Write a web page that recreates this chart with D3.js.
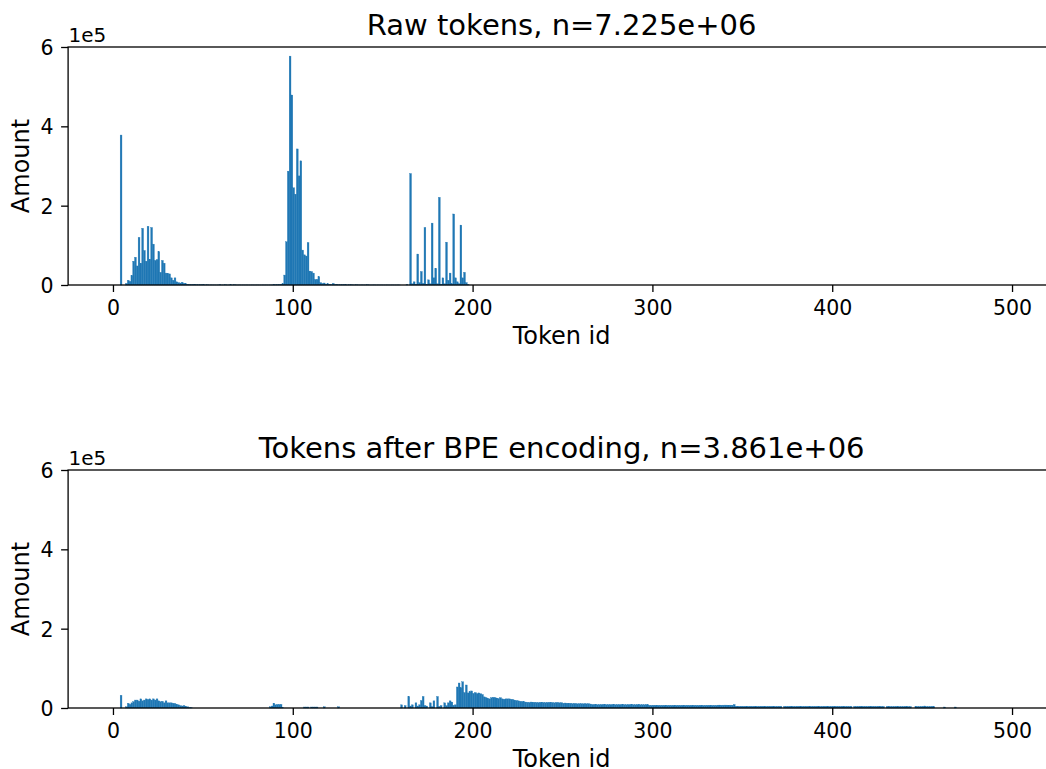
<!DOCTYPE html>
<html>
<head>
<meta charset="utf-8">
<script src="https://cdn.jsdelivr.net/npm/d3@7"></script>
<style>
  html, body { margin: 0; padding: 0; background: #ffffff; overflow: hidden; }
  svg { display: block; font-family: "DejaVu Sans", sans-serif; }
</style>
</head>
<body>
<svg id="chart" width="1046" height="769"></svg>
<script>
// ---- Histogram counts per token id (one bin per id) ----

// Raw tokens: ids 4..87
const rawLowStart = 4;
const rawLowCounts = [
  378000, 0, 0, 4000, 12000, 9000, 24000, 60000, 70000, 48000,
  120000, 55000, 143000, 87000, 60000, 148000, 65000, 145000, 103000, 62000,
  64000, 84000, 32000, 62000, 55000, 30000, 29000, 28000, 18000, 12000,
  18000, 8000, 6000, 5000, 7000, 4000, 3000, 2000, 1500, 1000,
  1200, 800, 900, 600, 700, 500, 600, 400, 500, 300,
  400, 300, 300, 200, 300, 700, 200, 300, 600, 200,
  300, 500, 200, 700, 300, 200, 400, 200, 300, 200,
  300, 200, 200, 300, 200, 200, 300, 200, 200, 300,
  200, 300, 200, 300
];

// Raw tokens: ids 88..159
const rawMidStart = 88;
const rawMidCounts = [
  300, 500, 600, 1000, 1500, 2000, 3000, 25000, 109000, 287000,
  577000, 479000, 245000, 229000, 343000, 275000, 313000, 88000, 76000, 73000,
  107000, 35000, 34000, 30000, 14000, 14000, 21000, 6000, 4000, 5000,
  2000, 3000, 2000, 1000, 4000, 1000, 1500, 800, 600, 700,
  500, 600, 400, 500, 700, 400, 300, 500, 400, 300,
  400, 300, 300, 500, 300, 200, 300, 400, 200, 300,
  200, 300, 200, 200, 300, 200, 200, 300, 200, 200,
  300, 200
];

// Raw tokens: ids 160..197
const rawHighStart = 160;
const rawHighCounts = [
  0, 0, 0, 1000, 0, 281000, 3000, 8000, 2000, 78000,
  6000, 34000, 4000, 145000, 2000, 13000, 3000, 156000, 18000, 42000,
  3000, 221000, 2000, 18000, 3000, 108000, 12000, 30000, 3000, 179000,
  18000, 8000, 3000, 151000, 18000, 32000, 6000, 1000
];

// BPE tokens: ids 4..43
const bpeLowStart = 4;
const bpeLowCounts = [
  32000, 0, 0, 3000, 12000, 9000, 13000, 16000, 20000, 20000,
  17000, 23000, 18000, 20000, 23000, 21000, 23000, 20000, 23000, 20000,
  23000, 18000, 16000, 17000, 13000, 18000, 13000, 13000, 13000, 12000,
  11000, 9000, 8000, 6000, 5000, 6000, 3000, 3000, 1000, 500
];

// BPE tokens: ids 87..125
const bpeMidStart = 87;
const bpeMidCounts = [
  3000, 5000, 12000, 8000, 9000, 9000, 9000, 500, 0, 0,
  0, 0, 0, 0, 0, 0, 0, 0, 0, 2500,
  2500, 2500, 0, 2500, 2500, 2500, 2500, 0, 0, 0,
  3000, 0, 0, 0, 0, 0, 0, 0, 3000
];

// BPE tokens: ids 160..229
const bpeHighStart = 160;
const bpeHighCounts = [
  8000, 0, 6000, 0, 29000, 5000, 8000, 0, 13000, 5000,
  8000, 19000, 29000, 6000, 5000, 0, 13000, 3000, 18000, 0,
  29000, 4000, 6000, 0, 13000, 6000, 13000, 18000, 15000, 7000,
  8000, 53000, 63000, 51000, 66000, 39000, 58000, 38000, 41000, 43000,
  37000, 39000, 36000, 38000, 36000, 34000, 28000, 26000, 24000, 23000,
  26000, 27000, 26000, 25000, 24000, 26000, 23000, 22000, 23000, 23000,
  23000, 22000, 21000, 19000, 19000, 18000, 17000, 16000, 16000, 15000
];

// BPE tokens: ids 230..468
const bpeTailStart = 230;
const bpeTailCounts = [
  14500, 14000, 15000, 14000, 14500, 14000, 13500, 14000, 14500, 14000,
  13500, 14000, 14000, 13500, 14000, 13000, 14000, 13500, 13000, 13500,
  12000, 12500, 12000, 11500, 12000,
  11000, 11500, 11000, 10500, 11000, 11000, 10500, 11000, 10500, 11000, 10000,
  8800, 8600, 8800, 8400, 8600, 8500, 8800, 8400, 8500, 8600,
  8400, 8300, 8500, 8400, 8600, 8400, 8300, 8400, 8500, 8200,
  8400, 8300, 8500, 8400, 8200, 8300, 8400, 8200, 8300, 8100,
  8400, 8200,
  6900, 6700, 7000, 6800, 6700, 6900, 6700, 6800, 6600, 6900,
  6700, 6800, 6700, 6600, 6900, 6700, 6800, 6700, 6600, 6800,
  6700, 6900, 6700, 6600, 6700, 6800, 6700, 6600, 6700, 6800,
  6600, 6700, 6800, 6700, 6600, 6700, 6700, 6600,
  7200, 7300, 7100, 7200, 7300, 7200, 7100, 7200, 7100, 8800,
  4400, 4200, 4300, 4400, 4200, 4100, 4300, 4200, 4400, 4100,
  4200, 4300, 4100, 4200, 4300, 4100, 4200, 4100, 4300, 4200,
  4100, 4200, 4000, 4100, 4200, 4100,
  0,
  4200, 4100, 4000, 4200, 4100, 4100, 4000, 4200, 4100, 4000,
  4100, 4200, 4100, 4000, 4100, 4100, 4200, 4000, 4100, 4100,
  4000, 4100, 4200, 4000, 4100, 4000, 4100, 4100, 4000, 4200,
  4100, 4000, 4100, 4100, 4000, 4100, 4000, 4100,
  0,
  4100, 4000, 4100, 4200, 4000, 4100, 4100, 4000, 4100, 4000,
  4200, 4100, 4000, 4100, 4000, 4100, 4000,
  0,
  3800, 3700, 3900, 3700, 3800, 3700, 3600, 3800, 3700, 3700,
  3800, 3600, 3700, 3700,
  0, 0,
  3700, 3800, 3600, 3700, 3800, 5000, 3700, 3600, 3700, 3800, 3600,
  0, 0, 0, 0, 0,
  2500,
  0, 0, 0, 0, 0,
  2500
];

// Axis settings
const binRange = [0, 499];
const tokenTicks = [0, 100, 200, 300, 400, 500];
const amountTicks = [0, 200000, 400000, 600000];
const amountMax = 600000;
const titles = ["Raw tokens, n=7.225e+06", "Tokens after BPE encoding, n=3.861e+06"];
const xLabel = "Token id";
const yLabel = "Amount";
const offsetLabel = "1e5";

// ---- Drawing ----
const barColor = "#1f77b4";
const svg = d3.select("#chart");
// the axes box runs a little past the right edge of the canvas
const left = 68.1, right = 1055.1, plotH = 238;
const panelTops = [47, 470];

function toBins(start, counts) {
  return counts.map((c, i) => ({ x0: start + i, x1: start + i + 1, count: c }));
}

const panelBins = [
  [].concat(toBins(rawLowStart, rawLowCounts), toBins(rawMidStart, rawMidCounts), toBins(rawHighStart, rawHighCounts)),
  [].concat(toBins(bpeLowStart, bpeLowCounts), toBins(bpeMidStart, bpeMidCounts),
            toBins(bpeHighStart, bpeHighCounts), toBins(bpeTailStart, bpeTailCounts))
];

const margin = (binRange[1] - binRange[0]) * 0.05;
const x = d3.scaleLinear()
  .domain([binRange[0] - margin, binRange[1] + margin])
  .range([left, right]);

panelBins.forEach((bins, p) => {
  const top = panelTops[p];
  const bottom = top + plotH;
  const y = d3.scaleLinear().domain([0, amountMax]).range([bottom, top]);
  const g = svg.append("g");

  // bars (thin same-colour outline closes the seams between neighbours)
  g.append("g").selectAll("rect")
    .data(bins.filter(d => d.count > 0))
    .join("rect")
    .attr("x", d => x(d.x0))
    .attr("width", d => x(d.x1) - x(d.x0))
    .attr("y", d => y(d.count))
    .attr("height", d => y(0) - y(d.count))
    .attr("fill", barColor)
    .attr("stroke", barColor)
    .attr("stroke-width", 0.35);

  // x axis
  const xAxis = g.append("g")
    .attr("transform", `translate(0,${bottom})`)
    .call(d3.axisBottom(x).tickValues(tokenTicks).tickSize(7).tickSizeOuter(0));
  xAxis.select(".domain").remove();
  xAxis.selectAll(".tick line").attr("stroke", "#000").attr("stroke-width", 1.3);
  xAxis.selectAll(".tick text")
    .attr("y", 30).attr("dy", null)
    .attr("fill", "#000")
    .style("font-size", "20.5px")
    .style("font-family", "'DejaVu Sans', sans-serif");

  // y axis
  const yAxis = g.append("g")
    .attr("transform", `translate(${left},0)`)
    .call(d3.axisLeft(y).tickValues(amountTicks).tickFormat(d => d / 1e5).tickSize(7).tickSizeOuter(0));
  yAxis.select(".domain").remove();
  yAxis.selectAll(".tick line").attr("stroke", "#000").attr("stroke-width", 1.3);
  yAxis.selectAll(".tick text")
    .attr("x", -14.5).attr("dy", "0.36em")
    .attr("fill", "#000")
    .style("font-size", "20.5px")
    .style("font-family", "'DejaVu Sans', sans-serif");

  // frame
  g.append("rect")
    .attr("x", left).attr("y", top)
    .attr("width", right - left).attr("height", plotH)
    .attr("fill", "none").attr("stroke", "#000").attr("stroke-width", 1.3);

  // offset text
  g.append("text")
    .attr("x", left + 0.5).attr("y", top - 5.3)
    .attr("font-size", 20).attr("fill", "#000")
    .text(offsetLabel);

  // title
  g.append("text")
    .attr("x", (left + right) / 2).attr("y", top - 12)
    .attr("text-anchor", "middle")
    .attr("font-size", 29).attr("fill", "#000")
    .text(titles[p]);

  // x label
  g.append("text")
    .attr("x", (left + right) / 2).attr("y", bottom + 58.5)
    .attr("text-anchor", "middle")
    .attr("font-size", 24).attr("fill", "#000")
    .text(xLabel);

  // y label
  g.append("text")
    .attr("transform", `translate(28.5,${(top + bottom) / 2}) rotate(-90)`)
    .attr("text-anchor", "middle")
    .attr("font-size", 24).attr("fill", "#000")
    .text(yLabel);
});
</script>
</body>
</html>
